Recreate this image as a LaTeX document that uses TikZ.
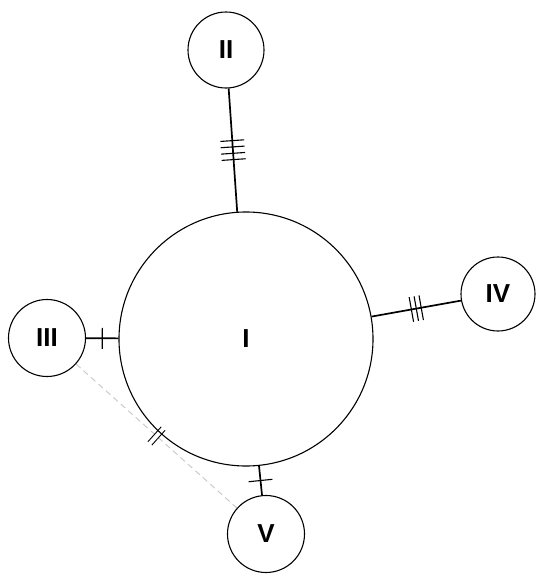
\documentclass[tikz,border=0pt]{standalone}
\usepackage{fontspec}
\setmainfont{Liberation Sans}
\usetikzlibrary{decorations.markings}
\tikzset{
  hap/.style={circle,draw,line width=1.1pt,inner sep=0pt,minimum size=#1,
    font=\fontsize{26}{26}\selectfont\bfseries},
  edgeline/.style={line width=1.7pt},
  ticks/.style 2 args={decoration={markings, mark=at position 0.5 with {%
      \foreach \o in {#1}{\draw[line width=1.1pt,solid,black] (\o pt,-#2) -- (\o pt,#2);}}},
    postaction={decorate}},
  gdash/.style={draw=black!22,line width=0.9pt,dash pattern=on 6pt off 4pt},
}
\begin{document}
\begin{tikzpicture}[x=1pt,y=-1pt]
\useasboundingbox (0,0) rectangle (550,581);
\node[hap=254pt] (I) at (246,339) {I};
\node[hap=76pt] (II) at (226,50) {II};
\node[hap=77pt] (III) at (47,338) {III};
\node[hap=74pt] (IV) at (498,294) {IV};
\node[hap=77pt] (V) at (266,534) {V};

\draw[edgeline,ticks={-9.5,-3.2,3.2,9.5}{12pt}] (II) -- (I);
\draw[edgeline,ticks={-5,0,5}{12.5pt}] (I) -- (IV);
\draw[edgeline,ticks={0}{10.5pt}] (III) -- (I);
\draw[edgeline,ticks={0}{12pt}] (I) -- (V);
\draw[gdash] (III) -- (V);
\path[decoration={markings, mark=at position 0.5 with {%
      \foreach \o in {-2.6,2.6}{\draw[line width=0.9pt,black] (\o pt,-10pt) -- (\o pt,10pt);}}},
    postaction={decorate}] (III) -- (V);
\end{tikzpicture}
\end{document}
